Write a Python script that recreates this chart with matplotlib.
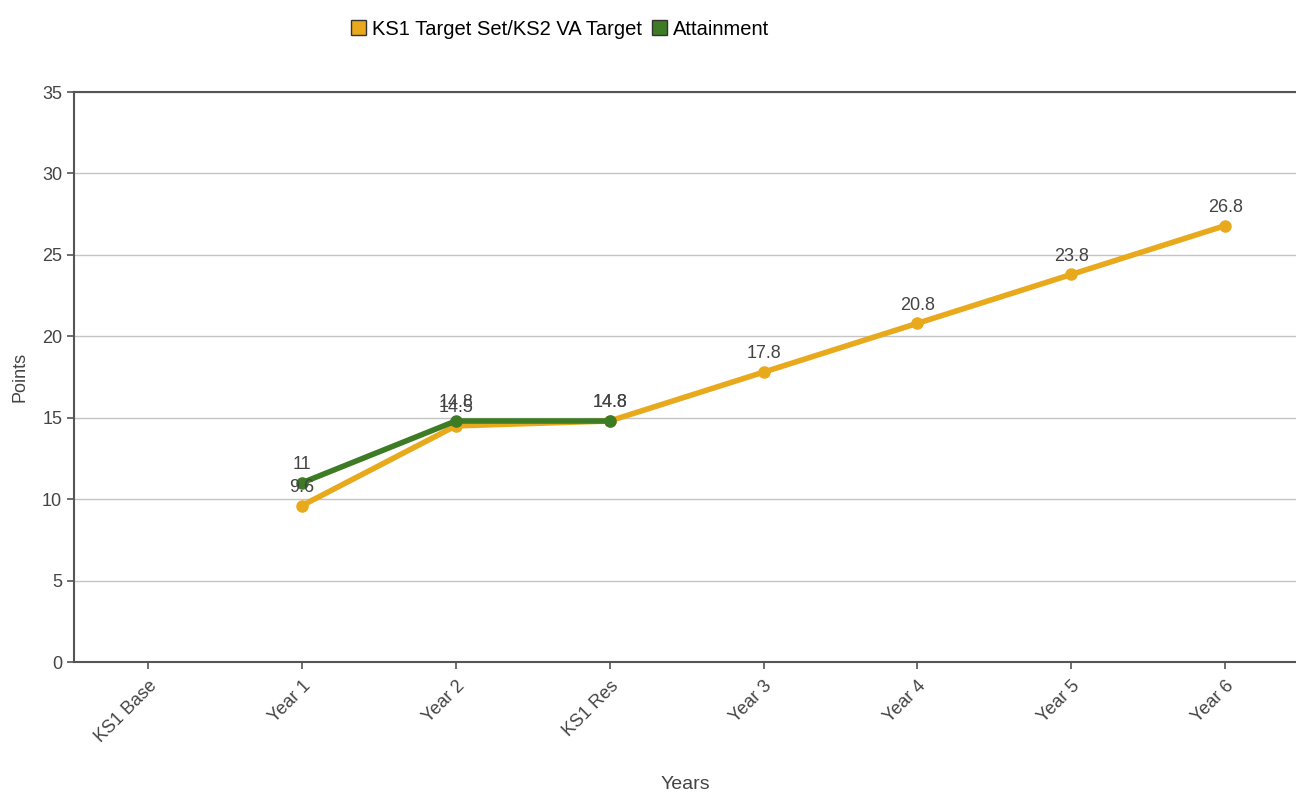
import matplotlib.pyplot as plt
from matplotlib.patches import Patch

plt.rcParams['font.family'] = ['Liberation Sans', 'DejaVu Sans']

categories = ["KS1 Base", "Year 1", "Year 2", "KS1 Res", "Year 3", "Year 4", "Year 5", "Year 6"]
target = [None, 9.6, 14.5, 14.8, 17.8, 20.8, 23.8, 26.8]
attainment = [None, 11, 14.8, 14.8, None, None, None, None]

orange = "#E8A91C"
green = "#3E7B25"
text_col = "#444444"

fig = plt.figure(figsize=(12.96, 7.92), dpi=100)
ax = fig.add_axes([0.0571, 0.1641, 0.943, 0.7197])

x = list(range(len(categories)))


def series(vals):
    xs = [i for i, v in zip(x, vals) if v is not None]
    ys = [v for v in vals if v is not None]
    return xs, ys


tx, ty = series(target)
ax_, ay = series(attainment)

ax.plot(tx, ty, color=orange, lw=4, marker="o", ms=8, zorder=3)
ax.plot(ax_, ay, color=green, lw=4, marker="o", ms=8, zorder=4)

# value labels above each point (they overlap at Year 2, as in the original)
for xi, yi in zip(tx, ty):
    ax.annotate(f"{yi:g}", (xi, yi), xytext=(0, 7), textcoords="offset points",
                ha="center", va="bottom", fontsize=13, color=text_col, zorder=5)
for xi, yi in zip(ax_, ay):
    ax.annotate(f"{yi:g}", (xi, yi), xytext=(0, 7), textcoords="offset points",
                ha="center", va="bottom", fontsize=13, color=text_col, zorder=5)

ax.set_xlim(-0.48, 7.46)
ax.set_ylim(0, 35)
ax.set_yticks(range(0, 36, 5))
ax.set_xticks(x)
ax.set_xticklabels(categories, rotation=45, ha="right", rotation_mode="anchor")
ax.tick_params(axis="both", colors="#555555", labelcolor=text_col, labelsize=13, length=5, width=1.2)
ax.tick_params(axis="x", pad=6)

ax.yaxis.grid(True, color="#c4c4c4", lw=1)
ax.set_axisbelow(True)
for s in ["left", "bottom", "top"]:
    ax.spines[s].set_color("#555555")
    ax.spines[s].set_linewidth(1.5)
ax.spines["right"].set_visible(False)

ax.set_xlabel("Years", fontsize=14, color=text_col, labelpad=22)
ax.set_ylabel("Points", fontsize=13, color=text_col, labelpad=10)

handles = [Patch(facecolor=orange, edgecolor="#333333", label="KS1 Target Set/KS2 VA Target"),
           Patch(facecolor=green, edgecolor="#333333", label="Attainment")]
fig.legend(handles=handles, loc="center", bbox_to_anchor=(0.432, 0.963), ncol=2, frameon=False,
           fontsize=14.5, handlelength=0.75, handleheight=0.75, handletextpad=0.3, columnspacing=0.5)

fig.savefig("out.png", dpi=100)
